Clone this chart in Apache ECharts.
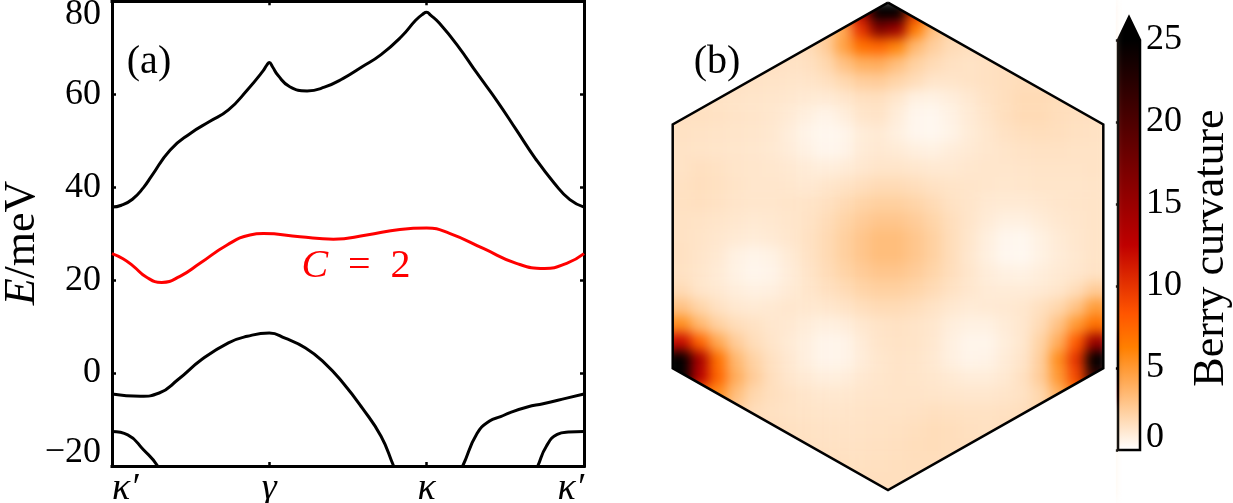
<!DOCTYPE html>
<html>
<head>
<meta charset="utf-8">
<script src="https://cdn.jsdelivr.net/npm/echarts@6/dist/echarts.min.js"></script>
<style>
html, body { margin: 0; padding: 0; background: #fff; }
#main { width: 1233px; height: 503px; }
</style>
</head>
<body>
<div id="main"></div>
<script>
// (a) bands along k' -> gamma -> k -> k'  (path coordinate 0..3), energies in meV
const kTicks = ['κ′', 'γ', 'κ', 'κ′'];
const bandUpper = [[0,35.7],[0.06,36.1],[0.13,37.4],[0.2,39.9],[0.25,42.3],[0.37,48],[0.5,51.6],[0.62,54.1],
  [0.74,56.6],[0.86,60.9],[0.96,65.0],[0.985,66.3],[1.0,66.8],[1.02,65.9],[1.056,64.0],[1.13,61.6],[1.24,60.7],
  [1.35,61.5],[1.47,63.4],[1.59,65.9],[1.71,68.5],[1.84,72.4],[1.93,75.9],[1.975,77.2],[2.0,77.6],[2.025,77.0],
  [2.08,75.3],[2.2,70.3],[2.32,64.5],[2.45,58.4],[2.57,52.3],[2.69,46.2],[2.81,40.9],[2.91,37.3],[3,35.7]];
const bandChern = [[0,25.7],[0.07,24.6],[0.135,23.0],[0.22,20.6],[0.316,19.5],[0.432,20.8],[0.559,23.6],
  [0.729,27.5],[0.877,29.7],[0.962,30.0],[1.195,29.3],[1.407,28.8],[1.619,29.7],[1.83,30.9],[2.0,31.2],
  [2.149,30.0],[2.36,26.8],[2.57,23.6],[2.75,22.5],[2.89,23.6],[3,25.7]];
const bandLower = [[0,-4.5],[0.18,-5.0],[0.3,-4.3],[0.42,-1.4],[0.57,2.9],[0.74,6.5],[0.86,7.9],[1.0,8.6],
  [1.1,7.5],[1.23,5.4],[1.35,2.2],[1.47,-2.2],[1.59,-7.5],[1.71,-13.6],[1.79,-20],[1.87,-26],[2.0,-32],
  [2.14,-26],[2.229,-20],[2.32,-13.0],[2.40,-10.3],[2.47,-9.4],[2.53,-8.5],[2.64,-7.3],[2.74,-6.6],
  [2.89,-5.4],[3,-4.5]];
const bandLowestLeft = [[0,-12.6],[0.1,-13.3],[0.2,-16.5],[0.29,-20],[0.36,-25]];
const bandLowestRight = [[2.64,-25],[2.706,-20],[2.76,-15.8],[2.83,-13.2],[2.9,-12.7],[3,-12.6]];

// (b) Berry curvature, 28 rows (top to bottom) x 24 columns.
// Cells beyond the zone edge repeat the nearby edge reading; they lie under the white mask.
const berryRows = [
  [1.5,1.5,1.5,1.5,1.5,1.5,1.5,1.6,2.5,8,14,29,28,10,6,2.2,1.6,1.6,1.6,1.6,1.6,1.6,1.6,1.6],
  [1.5,1.5,1.5,1.5,1.5,1.5,1.6,1.8,2.4,4.2,10,17,15,6.5,3.2,2.0,1.7,1.6,1.6,1.6,1.7,1.7,1.7,1.7],
  [1.5,1.5,1.5,1.5,1.5,1.6,1.6,1.7,2.4,4.5,7,7.5,6,3.5,2.4,1.8,1.6,1.6,1.6,1.7,1.7,1.7,1.7,1.7],
  [1.5,1.5,1.5,1.5,1.5,1.5,1.4,1.5,1.9,3.0,3.9,4.0,3.2,2.3,1.8,1.5,1.4,1.5,1.6,1.7,1.7,1.7,1.7,1.7],
  [1.5,1.5,1.5,1.5,1.4,1.35,1.3,1.3,1.5,1.9,2.4,2.5,2.1,1.7,1.3,1.3,1.4,1.5,1.6,1.7,1.7,1.7,1.7,1.7],
  [1.5,1.5,1.4,1.35,1.3,1.25,1.15,1.05,1.0,1.2,1.5,1.55,1.2,0.7,0.65,0.85,1.1,1.4,1.6,1.8,1.8,1.7,1.7,1.7],
  [1.5,1.5,1.45,1.35,1.3,1.2,1.0,0.75,0.55,0.8,1.25,1.35,0.9,0.45,0.4,0.65,1.0,1.3,1.6,1.8,1.8,1.65,1.55,1.5],
  [1.45,1.4,1.35,1.3,1.25,1.15,0.85,0.55,0.4,0.5,0.9,1.05,0.75,0.45,0.4,0.6,0.95,1.2,1.45,1.6,1.65,1.6,1.5,1.45],
  [1.4,1.35,1.3,1.25,1.2,1.1,0.9,0.65,0.45,0.55,0.95,1.1,1.0,0.8,0.7,0.9,1.05,1.2,1.3,1.4,1.45,1.45,1.4,1.4],
  [1.4,1.55,1.45,1.3,1.25,1.2,1.1,0.95,0.85,0.95,1.15,1.3,1.3,1.2,1.1,1.1,1.2,1.25,1.25,1.3,1.35,1.35,1.35,1.4],
  [1.5,1.6,1.5,1.35,1.25,1.25,1.2,1.1,1.25,1.4,1.6,1.8,1.8,1.65,1.45,1.35,1.3,1.25,1.2,1.25,1.3,1.3,1.3,1.35],
  [1.5,1.55,1.45,1.3,1.25,1.25,1.3,1.35,1.5,1.8,2.1,2.3,2.3,2.1,1.8,1.45,1.3,1.1,1.05,1.05,1.15,1.25,1.3,1.35],
  [1.45,1.4,1.3,1.2,1.1,1.15,1.25,1.4,1.7,2.1,2.5,2.8,2.8,2.5,2.1,1.65,1.3,1.0,0.75,0.75,0.95,1.15,1.25,1.35],
  [1.45,1.35,1.2,1.05,0.95,1.05,1.2,1.45,1.8,2.3,2.8,3.2,3.2,2.8,2.3,1.7,1.25,0.8,0.45,0.4,0.7,1.0,1.2,1.35],
  [1.5,1.3,1.1,0.7,0.55,0.65,1.0,1.4,1.8,2.3,2.8,3.2,3.2,2.8,2.3,1.7,1.2,0.75,0.4,0.35,0.65,0.95,1.15,1.35],
  [1.45,1.25,1.0,0.65,0.45,0.55,0.9,1.3,1.7,2.1,2.5,2.8,2.8,2.5,2.1,1.65,1.25,0.9,0.7,0.65,0.85,1.05,1.2,1.4],
  [1.8,1.3,1.1,0.85,0.7,0.75,1.0,1.25,1.5,1.75,2.1,2.3,2.3,2.1,1.8,1.45,1.2,1.0,0.95,0.95,1.05,1.25,1.7,2.5],
  [3.0,2.1,1.5,1.15,1.05,1.1,1.2,1.15,1.2,1.35,1.6,1.8,1.8,1.65,1.4,1.15,1.0,1.05,1.1,1.2,1.55,2.0,3.0,4.8],
  [5.5,3.5,2.3,1.7,1.45,1.2,1.1,0.9,0.75,0.85,1.15,1.35,1.45,1.35,1.2,0.85,0.7,0.7,0.95,1.2,1.8,3.0,5.0,7.0],
  [12,7.5,4.2,2.5,1.7,1.3,1.0,0.75,0.5,0.55,0.95,1.3,1.4,1.35,1.15,0.75,0.5,0.5,0.85,1.2,2.2,4.0,8.0,15],
  [27,14,7,3.5,2.2,1.5,1.1,0.75,0.5,0.55,0.9,1.2,1.35,1.3,1.1,0.75,0.55,0.6,0.95,1.3,2.4,5.5,10,26],
  [26,13,7.5,4,2.5,1.6,1.2,1.0,0.8,0.85,1.1,1.25,1.35,1.3,1.2,1.05,0.9,0.9,1.1,1.5,2.5,5,9,22],
  [16,7,5.5,3.2,2.0,1.6,1.4,1.25,1.15,1.15,1.25,1.3,1.35,1.35,1.3,1.25,1.2,1.2,1.3,1.45,2.0,3.8,6.5,14],
  [1.5,2.5,4.0,2.4,1.7,1.5,1.4,1.35,1.3,1.3,1.35,1.4,1.4,1.45,1.55,1.5,1.45,1.45,1.5,1.6,2.0,3.0,2.0,1.5],
  [1.5,1.5,1.6,2.0,1.8,1.6,1.5,1.45,1.4,1.4,1.4,1.45,1.5,1.6,1.7,1.65,1.55,1.5,1.6,1.7,1.9,1.6,1.5,1.5],
  [1.5,1.5,1.5,1.5,1.5,1.6,1.6,1.5,1.45,1.45,1.45,1.5,1.55,1.65,1.7,1.65,1.6,1.6,1.6,1.5,1.5,1.5,1.5,1.5],
  [1.5,1.5,1.5,1.5,1.5,1.5,1.5,1.55,1.6,1.55,1.5,1.55,1.6,1.65,1.65,1.6,1.6,1.5,1.5,1.5,1.5,1.5,1.5,1.5],
  [1.5,1.5,1.5,1.5,1.5,1.5,1.5,1.5,1.5,1.6,1.6,1.6,1.6,1.6,1.6,1.5,1.5,1.5,1.5,1.5,1.5,1.5,1.5,1.5]
];
// Brillouin zone corners in the same cell units
const bzHexagon = [[12,0],[24,7],[24,21],[12,28],[0,21],[0,7],[12,0]];
// white cover for everything around the zone
const outsideZone = [
  [[-2,-1],[12.5,-1],[12.5,-0.3],[12,0],[0,7],[0,21],[12,28],[12.5,28.3],[12.5,30.5],[-2,30.5]],
  [[12,-1],[24.7,-1],[24.7,30.5],[12,30.5],[12,28],[24,21],[24,7],[12,0]]
];
// gist_heat reversed, 13 even stops over 0..25
const heatColors = ['#ffffff','#ffd5aa','#ffaa55','#ff8000','#ff5500','#df2b00','#bf0000',
  '#9f0000','#800000','#600000','#400000','#200000','#000000'];

const serif = '"Liberation Serif", "DejaVu Serif", serif';

var nCols = berryRows[0].length, nRows = berryRows.length;
var heatData = [];
berryRows.forEach(function (row, j) {
  row.forEach(function (v, i) { heatData.push([i, j, v]); });
});

function minus(v) { return String(v).replace('-', '\u2212'); }

var frameLine = { show: true, onZero: false, lineStyle: { color: '#000', width: 3, cap: 'square' } };
var frameTick = { show: true, inside: true, length: 4, lineStyle: { color: '#000', width: 2.5 } };
var bandStyle = function (c) { return { color: c, width: 3 }; };

var chart = echarts.init(document.getElementById('main'));
chart.setOption({
  animation: false,
  grid: [
    { left: 112, top: 1.2, width: 472, height: 464.8, outerBoundsMode: 'none' },
    { left: 672.7, top: 2.7, width: 430.6, height: 487.3, outerBoundsMode: 'none' },
    { left: 1118, top: 40, width: 22, height: 410, outerBoundsMode: 'none' }
  ],
  xAxis: [
    { gridIndex: 0, type: 'value', min: 0, max: 3, interval: 1, position: 'bottom',
      axisLine: frameLine, axisTick: frameTick, splitLine: { show: false },
      axisLabel: { show: true, color: '#000', fontFamily: serif, fontStyle: 'italic', fontSize: 38,
        margin: 4, showMinLabel: true, showMaxLabel: true, alignMinLabel: 'left', alignMaxLabel: 'right',
        formatter: function (v) { return kTicks[Math.round(v)]; } } },
    { gridIndex: 0, type: 'value', min: 0, max: 3, interval: 1, position: 'top',
      axisLine: frameLine, axisTick: frameTick, splitLine: { show: false }, axisLabel: { show: false } },
    { gridIndex: 1, type: 'value', min: 0, max: nCols, show: false },
    { gridIndex: 2, type: 'value', min: 0, max: 1, show: false }
  ],
  yAxis: [
    { gridIndex: 0, type: 'value', min: -20, max: 80, interval: 20, position: 'left',
      axisLine: frameLine, axisTick: frameTick, splitLine: { show: false },
      axisLabel: { show: true, color: '#000', fontFamily: serif, fontSize: 36, margin: 11, lineHeight: 26,
        showMinLabel: true, showMaxLabel: true,
        verticalAlignMinLabel: 'bottom', verticalAlignMaxLabel: 'top', formatter: minus } },
    { gridIndex: 0, type: 'value', min: -20, max: 80, interval: 20, position: 'right',
      axisLine: frameLine, axisTick: frameTick, splitLine: { show: false }, axisLabel: { show: false } },
    { gridIndex: 1, type: 'value', min: 0, max: nRows, inverse: true, show: false },
    { gridIndex: 2, type: 'value', min: 0, max: 25, interval: 5, position: 'right',
      axisLine: { show: false }, splitLine: { show: false },
      axisTick: { show: true, inside: true, length: 3, lineStyle: { color: '#000', width: 2.5 } },
      axisLabel: { show: true, color: '#000', fontFamily: serif, fontSize: 36, margin: 6, lineHeight: 24,
        showMinLabel: true, showMaxLabel: true, verticalAlignMinLabel: 'bottom' } }
  ],
  visualMap: {
    type: 'continuous', show: false, min: 0, max: 25, dimension: 2, seriesIndex: 5,
    inRange: { color: heatColors }, outOfRange: { color: ['#000000'] }
  },
  series: [
    { type: 'line', xAxisIndex: 0, yAxisIndex: 0, data: bandUpper, smooth: 0.5, symbol: 'none',
      lineStyle: bandStyle('#000') },
    { type: 'line', xAxisIndex: 0, yAxisIndex: 0, data: bandChern, smooth: 0.5, symbol: 'none',
      lineStyle: bandStyle('#ff0000') },
    { type: 'line', xAxisIndex: 0, yAxisIndex: 0, data: bandLower, smooth: 0.5, symbol: 'none',
      lineStyle: bandStyle('#000') },
    { type: 'line', xAxisIndex: 0, yAxisIndex: 0, data: bandLowestLeft, smooth: 0.5, symbol: 'none',
      lineStyle: bandStyle('#000') },
    { type: 'line', xAxisIndex: 0, yAxisIndex: 0, data: bandLowestRight, smooth: 0.5, symbol: 'none',
      lineStyle: bandStyle('#000') },
    { type: 'custom', xAxisIndex: 2, yAxisIndex: 2, data: heatData, zlevel: 1, clip: false,
      renderItem: function (params, api) {
        var i = api.value(0), j = api.value(1);
        var a = api.coord([i, j]);
        var b = api.coord([i + 1, j + 1]);
        // stretch the border cells a little past the box so the soft edge stays under the mask
        var x0 = a[0] - (i === 0 ? 10 : 0), x1 = b[0] + (i === nCols - 1 ? 7 : 0.6);
        var y0 = a[1] - (j === 0 ? 3 : 0), y1 = b[1] + (j === nRows - 1 ? 10 : 0.6);
        return { type: 'rect', shape: { x: x0, y: y0, width: x1 - x0, height: y1 - y0 },
          style: { fill: api.visual('color') } };
      } },
    { type: 'custom', xAxisIndex: 2, yAxisIndex: 2, data: outsideZone.map(function (p, i) { return [i]; }),
      zlevel: 2, z: 2, clip: false,
      renderItem: function (params, api) {
        var pts = outsideZone[params.dataIndex].map(function (p) { return api.coord(p); });
        return { type: 'polygon', shape: { points: pts }, style: { fill: '#fff' } };
      } },
    { type: 'line', xAxisIndex: 2, yAxisIndex: 2, data: bzHexagon, symbol: 'none', clip: false,
      zlevel: 2, z: 3, lineStyle: { color: '#000', width: 2.5, join: 'miter' } },
    { type: 'custom', xAxisIndex: 3, yAxisIndex: 3, data: [[0, 0]], clip: false, z: 3,
      renderItem: function (params, api) {
        var lo = api.coord([0, 0]);
        var hi = api.coord([1, 25]);
        var tip = api.coord([0.5, 26.4]);
        var stops = heatColors.map(function (c, k) { return { offset: k / (heatColors.length - 1), color: c }; });
        var outline = [[lo[0], lo[1]], [hi[0], lo[1]], [hi[0], hi[1]], [tip[0], tip[1]], [lo[0], hi[1]]];
        return { type: 'group', children: [
          { type: 'rect', shape: { x: lo[0], y: hi[1], width: hi[0] - lo[0], height: lo[1] - hi[1] },
            style: { fill: { type: 'linear', x: 0, y: 1, x2: 0, y2: 0, colorStops: stops } } },
          { type: 'polygon', shape: { points: [[lo[0], hi[1]], [hi[0], hi[1]], [tip[0], tip[1]]] },
            style: { fill: '#000' } },
          { type: 'polygon', shape: { points: outline },
            style: { fill: null, stroke: '#000', lineWidth: 2.5, lineJoin: 'miter' } }
        ] };
      } }
  ],
  graphic: [
    { type: 'text', x: 149, y: 62, zlevel: 3,
      style: { text: '(a)', fontFamily: serif, fontSize: 40, fill: '#000', align: 'center', verticalAlign: 'middle' } },
    { type: 'text', x: 717, y: 62, zlevel: 3,
      style: { text: '(b)', fontFamily: serif, fontSize: 40, fill: '#000', align: 'center', verticalAlign: 'middle' } },
    { type: 'text', x: 356, y: 266, zlevel: 3,
      style: { text: '{i|C}\u2002=\u20022', fontFamily: serif, fontSize: 40, fill: '#ff0000',
        align: 'center', verticalAlign: 'middle',
        rich: { i: { fontFamily: serif, fontSize: 40, fontStyle: 'italic', fill: '#ff0000' } } } },
    { type: 'text', x: 22, y: 243, rotation: Math.PI / 2, zlevel: 3,
      style: { text: '{i|E}/meV', fontFamily: serif, fontSize: 44, fill: '#000',
        align: 'center', verticalAlign: 'middle',
        rich: { i: { fontFamily: serif, fontSize: 44, fontStyle: 'italic', fill: '#000' } } } },
    { type: 'text', x: 1211, y: 248, rotation: Math.PI / 2, zlevel: 3,
      style: { text: 'Berry curvature', fontFamily: serif, fontSize: 44, fill: '#000',
        align: 'center', verticalAlign: 'middle' } }
  ]
});

// the map is a smooth density plot: soften its own canvas layer
var heatLayer = chart.getZr().painter.getLayer(1);
if (heatLayer && heatLayer.dom) heatLayer.dom.style.filter = 'blur(6px)';
</script>
</body>
</html>
